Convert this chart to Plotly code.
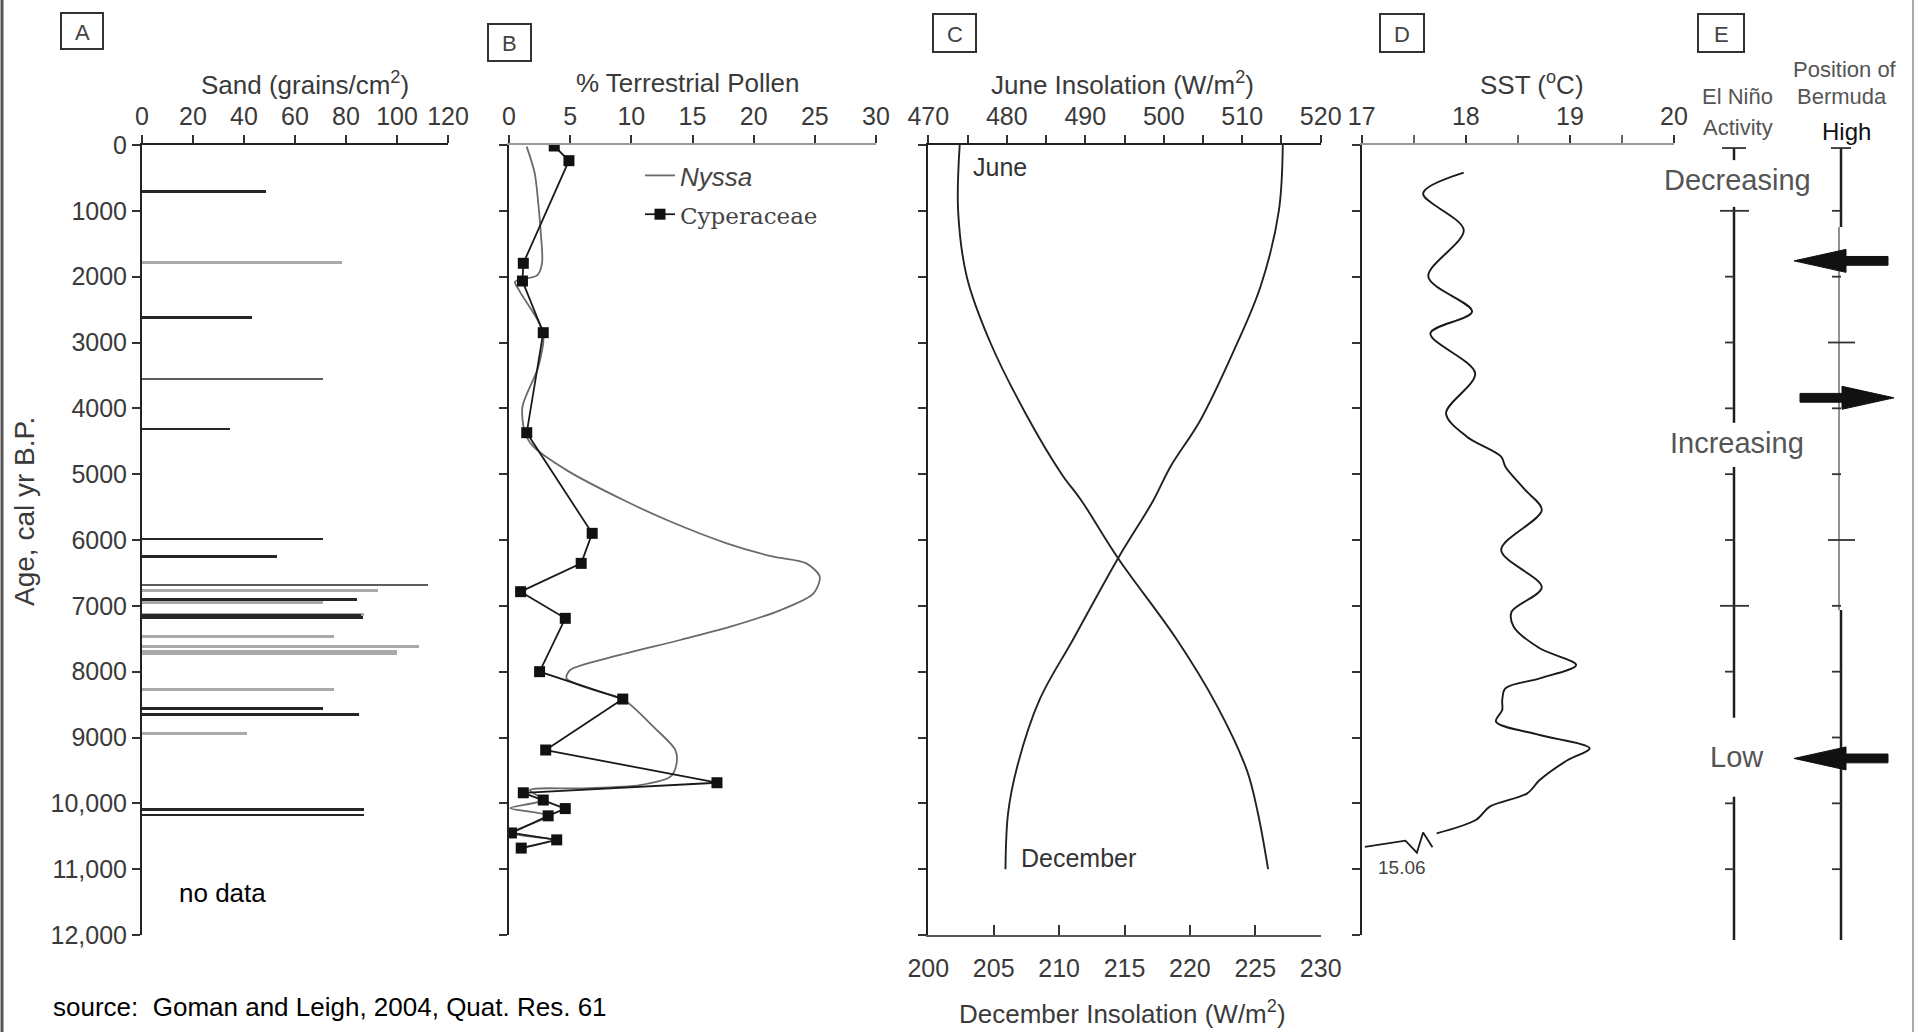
import plotly.graph_objects as go

# ---------------- data ----------------
# Panel A: sand (grains/cm2) by age (cal yr BP)
sand_dark_age = [710, 2618, 4314, 5985, 6254, 6901, 7150, 7175, 8562, 8648, 10091, 10178]
sand_dark_val = [48.5, 43.3, 34.5, 71.0, 52.8, 84.2, 86.0, 86.5, 71.0, 85.2, 87.2, 87.2]
sand_mid_age = [3555, 6684]
sand_mid_val = [71.1, 112.0]
sand_light_age = [1782, 6770, 6952, 7129, 7469, 7621, 7690, 7730, 8268, 8937]
sand_light_val = [78.3, 92.7, 71.1, 87.2, 75.4, 108.8, 100.1, 100.0, 75.4, 41.0]

# Panel B: % terrestrial pollen
nyssa_age = [25, 428, 900, 1340, 1797, 1980, 2076, 2230, 2850, 3367, 3975, 4370, 4583, 4950,
             5393, 5696, 6050, 6254, 6355, 6558, 6810, 7064, 7317, 7519, 7773, 7975, 8101, 8279,
             8416, 8836, 9190, 9392, 9595, 9722, 9772, 9798, 9950, 10070, 10190, 10450, 10555, 10680]
nyssa_val = [1.45, 2.1, 2.4, 2.6, 2.7, 2.3, 0.5, 0.9, 2.8, 2.4, 1.1, 1.3, 2.0, 4.8,
             9.35, 12.9, 17.8, 21.6, 24.3, 25.4, 24.9, 22.2, 18.1, 14.0, 8.5, 5.0, 4.7, 6.9,
             9.3, 11.8, 13.6, 13.7, 13.2, 10.7, 5.8, 1.7, 2.8, 0.1, 3.2, 0.2, 3.6, 1.0]
cyper_age = [15, 238, 1797, 2066, 2851, 4370, 5899, 6355, 6785, 7190, 8000, 8416, 9190,
             9687, 9840, 9950, 10080, 10190, 10450, 10555, 10680]
cyper_val = [3.7, 4.9, 1.17, 1.1, 2.8, 1.45, 6.8, 5.9, 0.95, 4.6, 2.5, 9.3, 3.0,
             17.0, 1.17, 2.8, 4.6, 3.2, 0.2, 3.9, 1.0]

# Panel C: insolation (W/m2)
june_age = [0, 1000, 2000, 3000, 4100, 5000, 5400, 6280, 7500, 8500, 9500, 10150, 11000]
june_val = [474.0, 473.8, 474.9, 477.9, 482.5, 487.0, 489.5, 494.2, 501.6, 506.7, 510.6, 512.0, 513.3]
dec_age = [0, 1000, 2150, 3150, 4180, 4890, 5400, 6280, 7500, 8430, 9440, 10150, 11000]
dec_val = [227.1, 226.8, 225.4, 223.3, 220.8, 218.5, 217.2, 214.5, 211.1, 208.5, 206.8, 206.1, 205.9]

# Panel D: SST (deg C)
sst_age = [420, 734, 1291, 2000, 2532, 2861, 3468, 4076, 4430, 4734, 4886, 5240, 5545, 6152,
           6719, 7089, 7317, 7645, 7899, 8101, 8253, 8430, 8582, 8760, 8962, 9165, 9342, 9646,
           9848, 10050, 10250, 10456]
sst_val = [17.98, 17.59, 17.98, 17.64, 18.06, 17.66, 18.09, 17.81, 18.01, 18.34, 18.38, 18.57, 18.73, 18.34,
           18.73, 18.44, 18.46, 18.71, 19.06, 18.71, 18.38, 18.35, 18.35, 18.29, 18.71, 19.19, 18.98, 18.71,
           18.59, 18.23, 18.10, 17.72]
sst_break_age = [10668, 10444, 10750, 10568, 10660]
sst_break_val = [17.68, 17.59, 17.53, 17.42, 17.03]
sst_off_scale_label = "15.06"

# Panel E: El Nino activity / Bermuda High
elnino_seg_start = [46, 940, 4890, 9900]
elnino_seg_end = [230, 4220, 8700, 12076]
elnino_labels = ["Decreasing", "Increasing", "Low"]
elnino_label_age = [530, 4520, 9300]
bermuda_dark_start = [46, 7063]
bermuda_dark_end = [1246, 12076]
bermuda_gray_start = [1246]
bermuda_gray_end = [7063]
bermuda_arrow_age = [1760, 3840, 9318]
bermuda_arrow_dir = ["left", "right", "left"]

age_ticks = list(range(0, 12001, 1000))
age_ticktext = ["0", "1000", "2000", "3000", "4000", "5000", "6000", "7000", "8000", "9000",
                "10,000", "11,000", "12,000"]

# ---------------- geometry helpers ----------------
W, H = 1915, 1032
def fx(p):
    return p / W
def fy(p):
    return 1 - p / H

TOP, BOT = 145, 935
PX_PER_YR = (BOT - TOP) / 12000.0
age_dom = [fy(BOT), fy(TOP)]

FONT = "Liberation Sans, Arial, sans-serif"
TXT = "#3a3a3a"
tickfont = dict(family=FONT, size=25, color=TXT)


def xax(dom, rng, side, anchor, linecolor="#222", **kw):
    d = dict(domain=dom, range=rng, side=side, anchor=anchor, showgrid=False, zeroline=False,
             showline=True, linecolor=linecolor, linewidth=2, ticks="outside", ticklen=8,
             tickwidth=2, tickcolor="#333", tickfont=tickfont, fixedrange=True, automargin=False)
    d.update(kw)
    return d


def yax(anchor, labels=False, **kw):
    d = dict(domain=age_dom, range=[12000, 0], anchor=anchor, showgrid=False, zeroline=False,
             showline=True, linecolor="#222", linewidth=2, ticks="outside", ticklen=8,
             tickwidth=2, tickcolor="#333", tickvals=age_ticks, showticklabels=labels,
             tickfont=dict(family=FONT, size=25, color=TXT), fixedrange=True, automargin=False)
    if labels:
        d["ticktext"] = age_ticktext
    d.update(kw)
    return d


fig = go.Figure()

# Panel A bars
for ages, vals, col in [(sand_light_age, sand_light_val, "#a9a9a9"),
                        (sand_mid_age, sand_mid_val, "#5c5c5c"),
                        (sand_dark_age, sand_dark_val, "#262626")]:
    fig.add_trace(go.Bar(x=vals, y=ages, orientation="h", width=38, marker_color=col,
                         marker_line_width=0, xaxis="x", yaxis="y", showlegend=False))

# Panel B lines
fig.add_trace(go.Scatter(x=nyssa_val, y=nyssa_age, mode="lines", name="<i>Nyssa</i>",
                         line=dict(color="#6a6a6a", width=1.8, shape="spline", smoothing=0.8),
                         xaxis="x2", yaxis="y2", legendgroup="a"))
fig.add_trace(go.Scatter(x=cyper_val, y=cyper_age, mode="lines+markers",
                         name="<span style='font-family:DejaVu Serif;font-size:23px'>Cyperaceae</span>",
                         line=dict(color="#1a1a1a", width=1.8),
                         marker=dict(symbol="square", size=11, color="#111"),
                         xaxis="x2", yaxis="y2", legendgroup="b"))

# Panel C
fig.add_trace(go.Scatter(x=june_val, y=june_age, mode="lines", line=dict(color="#222", width=1.9, shape="spline"),
                         xaxis="x3", yaxis="y3", showlegend=False))
fig.add_trace(go.Scatter(x=dec_val, y=dec_age, mode="lines", line=dict(color="#222", width=1.9, shape="spline"),
                         xaxis="x4", yaxis="y3", showlegend=False))

# Panel D
fig.add_trace(go.Scatter(x=sst_val, y=sst_age, mode="lines",
                         line=dict(color="#1a1a1a", width=1.9, shape="spline", smoothing=0.9),
                         xaxis="x5", yaxis="y4", showlegend=False))
fig.add_trace(go.Scatter(x=[sst_val[-1] - 0.04] + sst_break_val, y=[sst_age[-1] + 212] + sst_break_age,
                         mode="lines", line=dict(color="#1a1a1a", width=1.8),
                         xaxis="x5", yaxis="y4", showlegend=False, cliponaxis=False))

# Panel E (axes in pixel-like units)
E_X0, E_X1 = 1680, 1912
E_TOP, E_BOT = 140, 945
ELN_X, BER_X = 1734, 1841
k = PX_PER_YR


def segs(xpos, starts, ends):
    xs, ys = [], []
    for s, e in zip(starts, ends):
        xs += [xpos, xpos, None]
        ys += [s, e, None]
    return xs, ys


xs, ys = segs(ELN_X, elnino_seg_start, elnino_seg_end)
fig.add_trace(go.Scatter(x=xs, y=ys, mode="lines", line=dict(color="#1e1e1e", width=2.5),
                         xaxis="x6", yaxis="y5", showlegend=False))
xs, ys = segs(BER_X, bermuda_dark_start, bermuda_dark_end)
fig.add_trace(go.Scatter(x=xs, y=ys, mode="lines", line=dict(color="#1e1e1e", width=2.5),
                         xaxis="x6", yaxis="y5", showlegend=False))
xs, ys = segs(BER_X - 2, bermuda_gray_start, bermuda_gray_end)
fig.add_trace(go.Scatter(x=xs, y=ys, mode="lines", line=dict(color="#777", width=1.6),
                         xaxis="x6", yaxis="y5", showlegend=False))

# caps and ticks
tx, ty = [], []
for xc, half in [(ELN_X, 12), (BER_X, 10)]:
    tx += [xc - half, xc + half, None]
    ty += [46, 46, None]
for a in age_ticks[1:12]:
    if a != 9000:
        if a in (1000, 7000):
            tx += [ELN_X - 14, ELN_X + 15, None]
        else:
            tx += [ELN_X - 9, ELN_X, None]
        ty += [a, a, None]
    if a in (3000, 6000):
        tx += [BER_X - 13, BER_X + 14, None]
    else:
        tx += [BER_X - 9, BER_X, None]
    ty += [a, a, None]
fig.add_trace(go.Scatter(x=tx, y=ty, mode="lines", line=dict(color="#333", width=1.8),
                         xaxis="x6", yaxis="y5", showlegend=False))

# arrows as filled polygons (built from arrow age + style constants)
SHAFT_HALF = 4.4 / k   # in years
HEAD_HALF = 11.5 / k
HEAD_LEN = 52
ax_, ay_ = [], []
for a, d in zip(bermuda_arrow_age, bermuda_arrow_dir):
    if d == "left":
        tip, tail, sgn = 1794, 1888, -1
    else:
        tip, tail, sgn = 1894, 1800, 1
    base = tip - sgn * HEAD_LEN
    ax_ += [tail, base, base, tip, base, base, tail, tail, None]
    ay_ += [a - SHAFT_HALF, a - SHAFT_HALF, a - HEAD_HALF, a, a + HEAD_HALF, a + SHAFT_HALF,
            a + SHAFT_HALF, a - SHAFT_HALF, None]
fig.add_trace(go.Scatter(x=ax_, y=ay_, mode="lines", fill="toself", fillcolor="#111",
                         line=dict(color="#111", width=1), xaxis="x6", yaxis="y5", showlegend=False))

annotations = []
for lab, a in zip(elnino_labels, elnino_label_age):
    annotations.append(dict(x=ELN_X + 3, y=a, xref="x6", yref="y5", text=lab, showarrow=False,
                            font=dict(family=FONT, size=29, color="#555"), xanchor="center", yanchor="middle"))


def pa(x, y, text, size=26, color=TXT, xanchor="center", yanchor="middle", **kw):
    d = dict(x=fx(x), y=fy(y), xref="paper", yref="paper", text=text, showarrow=False,
             font=dict(family=FONT, size=size, color=color), xanchor=xanchor, yanchor=yanchor)
    d.update(kw)
    annotations.append(d)


# titles
pa(305, 83, "Sand (grains/cm<sup>2</sup>)")
pa(688, 83, "% Terrestrial Pollen")
pa(1122, 83, "June Insolation (W/m<sup>2</sup>)")
pa(1122, 1012, "December Insolation (W/m<sup>2</sup>)")
pa(1532, 83, "SST (<sup>o</sup>C)")
pa(24, 512, "Age, cal yr B.P.", size=28, textangle=-90)
pa(1845, 69, "Position of", size=22, color="#555")
pa(1737, 97, "El Niño", size=22, color="#555")
pa(1842, 97, "Bermuda", size=22, color="#555")
pa(1738, 127, "Activity", size=22, color="#555")
pa(1846, 131, "High", size=24, color="#111")
pa(51, 1007, "source:  Goman and Leigh, 2004, Quat. Res. 61", size=26, color="#000", xanchor="left")

# panel letters with boxes
shapes = []
for letter, (x0, y0, x1, y1) in zip("ABCDE", [(61, 13, 103, 49), (488, 24, 531, 61), (933, 14, 976, 52),
                                              (1380, 14, 1424, 52), (1698, 14, 1744, 52)]):
    shapes.append(dict(type="rect", xref="paper", yref="paper", x0=fx(x0), x1=fx(x1), y0=fy(y1), y1=fy(y0),
                       line=dict(color="#333", width=2)))
    pa((x0 + x1) / 2, (y0 + y1) / 2 + 1, letter, size=22, color="#444")

# frame edges
shapes.append(dict(type="line", xref="paper", yref="paper", x0=fx(2), x1=fx(2), y0=0, y1=1,
                   line=dict(color="#555", width=3)))
shapes.append(dict(type="line", xref="paper", yref="paper", x0=fx(1913), x1=fx(1913), y0=0, y1=1,
                   line=dict(color="#aaa", width=2)))

# in-panel text
annotations.append(dict(x=(177 - 142) / 2.55, y=11363, xref="x", yref="y", text="no data", showarrow=False,
                        font=dict(family=FONT, size=26, color="#000"), xanchor="left", yanchor="middle"))
annotations.append(dict(x=479.1, y=330, xref="x3", yref="y3", text="June", showarrow=False,
                        font=dict(family=FONT, size=25, color="#333")))
annotations.append(dict(x=489.1, y=10830, xref="x3", yref="y3", text="December", showarrow=False,
                        font=dict(family=FONT, size=25, color="#333")))
annotations.append(dict(x=17.39, y=10970, xref="x5", yref="y4", text=sst_off_scale_label, showarrow=False,
                        font=dict(family=FONT, size=19, color="#444")))

fig.update_layout(
    width=W, height=H, margin=dict(l=0, r=0, t=0, b=0, pad=0, autoexpand=False),
    paper_bgcolor="white", plot_bgcolor="rgba(0,0,0,0)",
    font=dict(family=FONT, color=TXT),
    barmode="overlay", bargap=0,
    xaxis=xax([fx(142), fx(448)], [0, 120], "top", "y", tickvals=[0, 20, 40, 60, 80, 100, 120]),
    yaxis=yax("x", labels=True),
    xaxis2=xax([fx(509), fx(876)], [0, 30], "top", "y2", linecolor="#999",
               tickvals=[0, 5, 10, 15, 20, 25, 30]),
    yaxis2=yax("x2"),
    xaxis3=xax([fx(928.3), fx(1320.7)], [470, 520], "top", "y3", tickvals=[470, 480, 490, 500, 510, 520],
               minor=dict(dtick=5, ticks="outside", ticklen=8, tickcolor="#333")),
    xaxis4=xax([fx(928.3), fx(1320.7)], [200, 230], "bottom", "y3", overlaying="x3", ticks="inside",
               ticklen=10, linecolor="#555", tickvals=[200, 205, 210, 215, 220, 225, 230],
               ticklabelstandoff=10),
    yaxis3=yax("x3"),
    xaxis5=xax([fx(1361.7), fx(1674)], [17, 20], "top", "y4", linecolor="#999", tickvals=[17, 18, 19, 20],
               minor=dict(dtick=0.5, ticks="outside", ticklen=8, tickcolor="#666")),
    yaxis4=yax("x5"),
    xaxis6=dict(domain=[fx(E_X0), fx(E_X1)], range=[E_X0, E_X1], visible=False, anchor="y5",
                fixedrange=True, automargin=False),
    yaxis5=dict(domain=[fy(E_BOT), fy(E_TOP)], range=[(E_BOT - TOP) / k, (E_TOP - TOP) / k],
                visible=False, anchor="x6", fixedrange=True, automargin=False),
    legend=dict(x=fx(640), y=fy(152), xanchor="left", yanchor="top", bgcolor="rgba(0,0,0,0)",
                font=dict(family=FONT, size=26, color="#444"), traceorder="grouped", tracegroupgap=2,
                itemwidth=30),
    annotations=annotations, shapes=shapes,
)

fig.write_html("out.html", config={"displayModeBar": False},
               post_script="document.body.style.margin='0px';document.body.style.overflow='hidden';")
